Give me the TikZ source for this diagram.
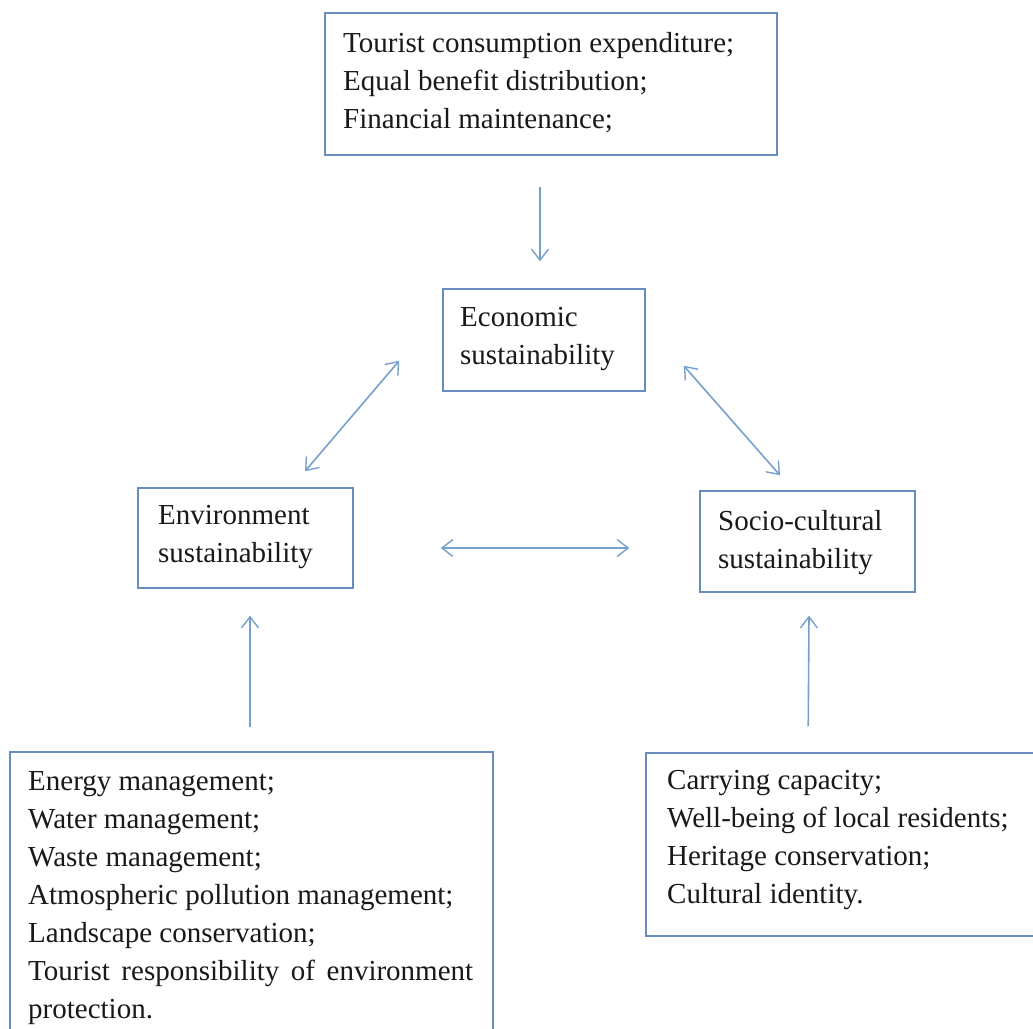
\documentclass[tikz,border=0pt]{standalone}
\usepackage{fontspec}
\setmainfont{Liberation Serif}
\usetikzlibrary{arrows.meta}
\definecolor{boxblue}{RGB}{105,140,190}
\definecolor{arrblue}{RGB}{120,160,205}
\definecolor{txtcol}{RGB}{25,25,25}
\begin{document}
\begin{tikzpicture}[x=1pt,y=-1pt,
  box/.style={draw=boxblue,line width=1.5pt,inner sep=0pt,rectangle},
  txt/.style={inner sep=0pt,anchor=north west,align=left,text=txtcol,
    font=\fontsize{29}{38}\selectfont},
  arr/.style={draw=arrblue,line width=1.6pt,
    arrows={-Straight Barb[length=11pt,width=17pt,line width=1.4pt]}},
  darr/.style={draw=arrblue,line width=1.6pt,
    arrows={Straight Barb[length=11pt,width=17pt,line width=1.4pt]-Straight Barb[length=11pt,width=17pt,line width=1.4pt]}}]
\useasboundingbox[fill=white] (0,0) rectangle (1033,1028);

% boxes
\node[box,minimum width=452pt,minimum height=142pt] (top) at (551,84) {};
\node[box,minimum width=202pt,minimum height=102pt] (eco) at (544,340) {};
\node[box,minimum width=215pt,minimum height=100pt] (env) at (245.5,538) {};
\node[box,minimum width=215pt,minimum height=101pt] (soc) at (807.5,541.5) {};
\node[box,minimum width=483pt,minimum height=293pt] (bl) at (251.5,898.5) {};
\node[box,minimum width=399pt,minimum height=183pt] (br) at (845.5,844.5) {};

% texts
\node[txt] (topT) at (343,32) {Tourist consumption expenditure;\\Equal benefit distribution;\\Financial maintenance;};
\node[txt] (ecoT) at (460,307) {Economic\\sustainability};
\node[txt] (envT) at (158,505) {Environment\\sustainability};
\node[txt] (socT) at (718,510) {Socio-cultural\\sustainability};
\node[txt,text width=445pt,align=justify] (blT) at (28,771) {Energy management;\\Water management;\\Waste management;\\Atmospheric pollution management;\\Landscape conservation;\\Tourist responsibility of environment protection.};
\node[txt] (brT) at (667,770) {Carrying capacity;\\Well-being of local residents;\\Heritage conservation;\\Cultural identity.};

% connectors
\draw[arr] ([xshift=-11pt,yshift=-31pt]top.south) -- ([xshift=-4pt,yshift=27pt]eco.north);
\draw[darr] ([xshift=59.5pt,yshift=16pt]env.north) -- ([xshift=-43pt,yshift=31pt]eco.south west);
\draw[darr] ([xshift=38pt,yshift=26pt]eco.south east) -- ([xshift=-27.5pt,yshift=15pt]soc.north);
\draw[darr] ([xshift=87pt,yshift=-10pt]env.east) -- ([xshift=-70pt,yshift=-6.5pt]soc.west);
\draw[arr] ([xshift=-1.5pt,yshift=24pt]bl.north) -- ([xshift=4.5pt,yshift=-27pt]env.south);
\draw[arr] ([xshift=163pt,yshift=26pt]br.north west) -- ([xshift=1.5pt,yshift=-23pt]soc.south);
\end{tikzpicture}
\end{document}
